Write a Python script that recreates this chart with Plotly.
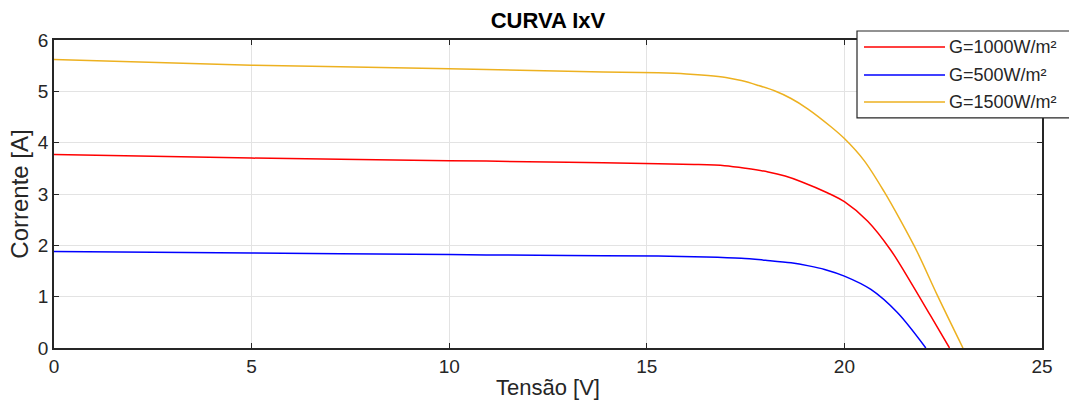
import plotly.graph_objects as go

# I-V curves of a PV module at three irradiance levels
v_1000 = [0, 5, 10, 13, 15.29, 16.2, 16.97, 17.5, 18.07, 18.5, 18.91, 19.58, 20.0, 20.59, 21.17, 21.68, 22.18, 22.66]
i_1000 = [3.77, 3.70, 3.65, 3.62, 3.59, 3.575, 3.55, 3.50, 3.43, 3.35, 3.24, 3.02, 2.85, 2.47, 1.91, 1.28, 0.63, 0.0]

v_500 = [0, 5, 10, 13, 15.29, 16.5, 17.39, 18.0, 18.65, 19.1, 19.5, 20.0, 20.67, 21.34, 22.06]
i_500 = [1.88, 1.85, 1.82, 1.80, 1.79, 1.775, 1.75, 1.71, 1.66, 1.60, 1.53, 1.40, 1.14, 0.69, 0.0]

v_1500 = [0, 5, 10, 13, 15.29, 16.0, 16.55, 17.0, 17.39, 17.8, 18.23, 18.65, 19.07, 19.66, 20.0, 20.5, 21.01, 21.43, 21.85, 22.35, 23.0]
i_1500 = [5.62, 5.51, 5.44, 5.39, 5.36, 5.34, 5.31, 5.27, 5.21, 5.12, 5.01, 4.86, 4.66, 4.31, 4.08, 3.65, 3.04, 2.47, 1.86, 1.03, 0.0]

names = ["G=1000W/m²", "G=500W/m²", "G=1500W/m²"]
colors = ["#ff0000", "#0000ff", "#edb120"]
series = [(v_1000, i_1000), (v_500, i_500), (v_1500, i_1500)]

x_ticks = [0, 5, 10, 15, 20, 25]
y_ticks = [0, 1, 2, 3, 4, 5, 6]

FONT = "Liberation Sans, Arial, Helvetica, sans-serif"
INK = "#262626"

fig = go.Figure()
for (vx, iy), nm, c in zip(series, names, colors):
    fig.add_trace(go.Scatter(x=vx, y=iy, mode="lines", name=nm,
                             line=dict(color=c, width=1.5, shape="spline", smoothing=0.9),
                             showlegend=False))

axis_common = dict(showline=True, linecolor=INK, linewidth=1.5, mirror="ticks",
                   ticks="inside", ticklen=5, tickcolor=INK, tickwidth=1,
                   showgrid=True, gridcolor="#e3e3e3", gridwidth=1, zeroline=False,
                   tickfont=dict(family=FONT, size=19, color=INK))

fig.update_xaxes(range=[0, 25], tickvals=x_ticks, **axis_common,
                 title=dict(text="Tensão [V]", font=dict(family=FONT, size=22, color=INK), standoff=4))
fig.update_yaxes(range=[0, 6], tickvals=y_ticks, **axis_common,
                 title=dict(text="Corrente [A]", font=dict(family=FONT, size=24, color=INK), standoff=2))

# Legend box drawn by hand so the sample lines match the long MATLAB style
L, R, T, B = 54, 1042, 40, 348.4
def px(x):
    return (x - L) / (R - L)
def py(y):
    return (B - y) / (B - T)

shapes = [dict(type="rect", xref="paper", yref="paper",
               x0=px(857), x1=px(1080), y0=py(118), y1=py(31),
               line=dict(color=INK, width=1.2), fillcolor="white", layer="above")]
annotations = []
rows = [47, 75, 102]
for nm, c, ry in zip(names, colors, rows):
    shapes.append(dict(type="line", xref="paper", yref="paper",
                       x0=px(864), x1=px(945), y0=py(ry), y1=py(ry),
                       line=dict(color=c, width=1.5), layer="above"))
    annotations.append(dict(xref="paper", yref="paper", x=px(947), y=py(ry),
                            xanchor="left", yanchor="middle", text=nm, showarrow=False,
                            font=dict(family=FONT, size=18, color=INK)))

fig.update_layout(
    width=1069, height=410,
    margin=dict(l=L, r=1069 - R, t=T, b=410 - B),
    paper_bgcolor="white", plot_bgcolor="white",
    title=dict(text="<b>CURVA IxV</b>", x=0.5, xref="paper", y=1 - 20 / 410, yanchor="middle",
               font=dict(family=FONT, size=22, color="#000000")),
    shapes=shapes, annotations=annotations,
)

fig.write_html("out.html")
